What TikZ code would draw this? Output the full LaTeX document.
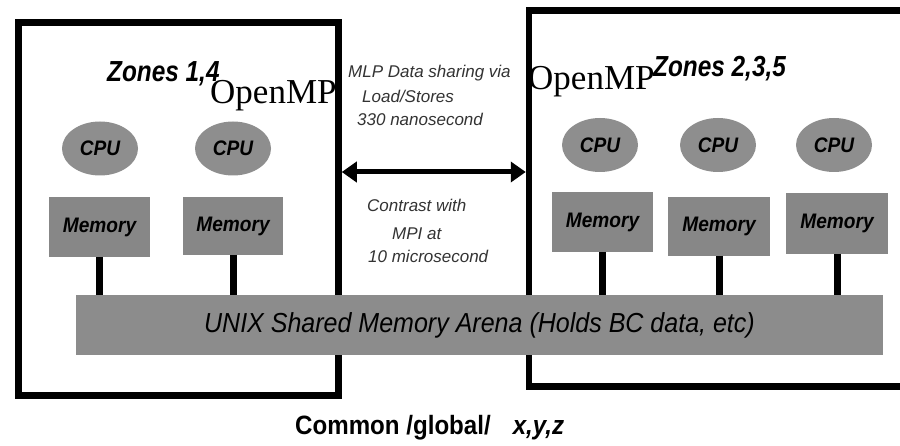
\documentclass[tikz,border=0pt]{standalone}
\usepackage{fontspec}
\usepackage{graphicx}
\setmainfont{Liberation Sans}
\newfontfamily\ompfont{Liberation Serif}
\newfontfamily\condA[FakeStretch=0.84]{Liberation Sans}
\newfontfamily\condB[FakeStretch=0.91]{Liberation Sans}
\usetikzlibrary{shapes.geometric,arrows.meta}
\definecolor{cpuGray}{HTML}{8E8E8E}
\definecolor{memGray}{HTML}{878787}
\definecolor{barGray}{HTML}{8C8C8C}
\definecolor{midText}{HTML}{333333}
\tikzset{
  frame/.style={draw=black, line width=6.5pt, rectangle, inner sep=0pt, outer sep=0pt, fill=none},
  cpu/.style={ellipse, fill=cpuGray, minimum width=76pt, minimum height=54pt, inner sep=0pt,
    font=\condB\fontsize{21}{24}\selectfont\bfseries\itshape},
  mem/.style={rectangle, fill=memGray, inner sep=0pt, outer sep=0pt,
    font=\condB\fontsize{21}{24}\selectfont\bfseries\itshape},
  bar/.style={rectangle, fill=barGray, inner sep=0pt, outer sep=0pt,
    font=\condB\fontsize{27.5}{32}\selectfont\itshape},
  conn/.style={draw=black, line width=7pt},
  dblarrow/.style={draw=black, line width=5pt, {Triangle[length=15pt,width=20pt]}-{Triangle[length=15pt,width=20pt]}},
  zone/.style={anchor=base west, inner sep=0pt, font=\condA\fontsize{29}{34}\selectfont\bfseries\itshape},
  omp/.style={anchor=base west, inner sep=0pt, font=\fontsize{35}{38}\ompfont},
  mid/.style={anchor=base west, inner sep=0pt, text=midText, font=\fontsize{17}{20}\selectfont\itshape},
  common/.style={anchor=base west, inner sep=0pt, font=\condB\fontsize{26.5}{30}\selectfont\bfseries}
}
\begin{document}
\begin{tikzpicture}[x=1pt,y=-1pt]
\clip (0,0) rectangle (900,446);
\fill[white] (0,0) rectangle (900,446);
% frames
\node[frame, minimum width=320pt, minimum height=373pt] (b1) at (178.5,209) {};
\node[frame, minimum width=391pt, minimum height=376pt] (b2) at (724.5,198.5) {};
% shared memory bar
\node[bar, minimum width=807pt, minimum height=60pt] (bar) at (479.5,325) {UNIX Shared Memory Arena (Holds BC data, etc)};
% CPUs
\node[cpu] (c1) at (100,148.5) {CPU};
\node[cpu] (c2) at (233,148.5) {CPU};
\node[cpu] (c3) at (600,145) {CPU};
\node[cpu] (c4) at (718,145) {CPU};
\node[cpu] (c5) at (834,145) {CPU};
% memories
\node[mem, minimum width=101pt, minimum height=60pt] (m1) at (99.5,227) {Memory};
\node[mem, minimum width=100pt, minimum height=58pt] (m2) at (233,226) {Memory};
\node[mem, minimum width=101pt, minimum height=60pt] (m3) at (602.5,222) {Memory};
\node[mem, minimum width=102pt, minimum height=59pt] (m4) at (719,226.5) {Memory};
\node[mem, minimum width=102pt, minimum height=61pt] (m5) at (837,223.5) {Memory};
% connectors
\foreach \m in {m1,m2,m3,m4,m5} {
  \draw[conn] (\m.south) -- (\m.south |- bar.north);
}
% double arrow
\coordinate (aL) at (341.75,172);
\coordinate (aR) at (525.75,172);
\draw[dblarrow] (aL) -- (aR);
% labels
\node[zone] (z1) at (107,82) {Zones 1,4};
\node[zone] (z2) at (653,77) {Zones 2,3,5};
\node[omp] (o1) at (210,104) {OpenMP};
\node[omp] (o2) at (528,90) {OpenMP};
\node[mid] (t1) at (348,78) {MLP Data sharing via};
\node[mid] (t2) at (362,103) {Load/Stores};
\node[mid] (t3) at (357,126) {330 nanosecond};
\node[mid] (t4) at (367,212) {Contrast with};
\node[mid] (t5) at (392,240) {MPI at};
\node[mid] (t6) at (368,263) {10 microsecond};
\node[common] (cm) at (295,435) {Common /global/\hspace{22pt}\itshape x,y,z};
\end{tikzpicture}
\end{document}
